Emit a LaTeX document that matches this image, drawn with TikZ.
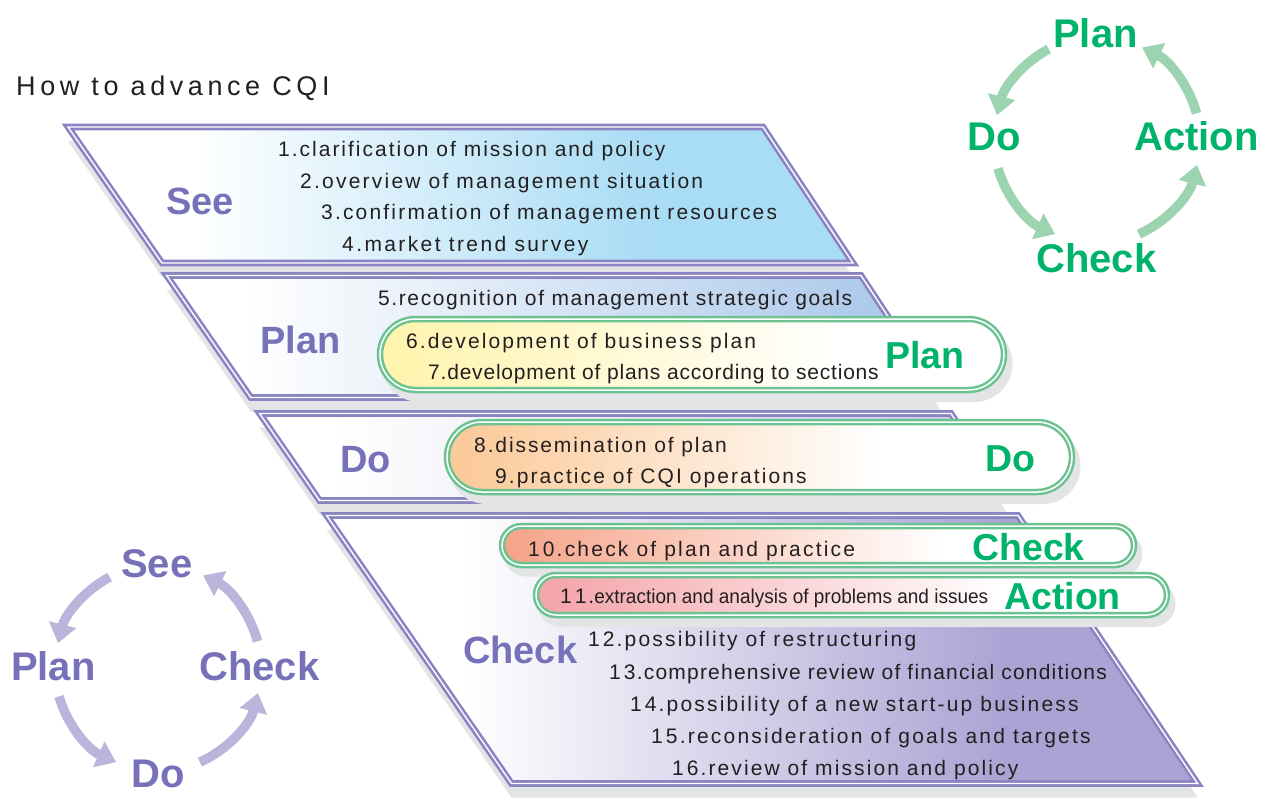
\documentclass[tikz,border=0pt]{standalone}
\usepackage{fontspec}
\setmainfont{Liberation Sans}
\newfontfamily\itemf[LetterSpace=9]{Liberation Sans}
\newfontfamily\titlef[LetterSpace=17]{Liberation Sans}
\newfontfamily\narrowf[FakeStretch=0.95]{Liberation Sans}
\newcommand{\lsp}[1]{\addfontfeature{LetterSpace=#1}}
\usetikzlibrary{shapes.misc,arrows.meta}
\definecolor{txt}{HTML}{231F20}
\definecolor{labpurple}{HTML}{7771B9}
\definecolor{labgreen}{HTML}{00B36B}
\definecolor{bandpurple}{HTML}{8A84C2}
\definecolor{pillgreen}{HTML}{6CC391}
\definecolor{arrgreen}{HTML}{9DD4B0}
\definecolor{arrpurple}{HTML}{B9B5DB}
\definecolor{shadowgray}{HTML}{E3E4E6}
\definecolor{seecol}{HTML}{A9DCF5}
\definecolor{plancol}{HTML}{ABC8EA}
\definecolor{docol}{HTML}{C9C7E7}
\definecolor{checkcol}{HTML}{AAA4D4}
\definecolor{pyellow}{HTML}{FFF4B0}
\definecolor{ppeach}{HTML}{FBCB9C}
\definecolor{psalmon}{HTML}{F6A58B}
\definecolor{ppink}{HTML}{F4A5AA}
\pgfdeclarehorizontalshading{seeshade}{100bp}{color(0bp)=(white); color(33bp)=(white); color(62bp)=(seecol); color(100bp)=(seecol)}
\pgfdeclarehorizontalshading{planshade}{100bp}{color(0bp)=(white); color(30bp)=(white); color(72bp)=(plancol); color(100bp)=(plancol)}
\pgfdeclarehorizontalshading{doshade}{100bp}{color(0bp)=(white); color(30bp)=(white); color(75bp)=(docol); color(100bp)=(docol)}
\pgfdeclarehorizontalshading{checkshade}{100bp}{color(0bp)=(white); color(33bp)=(white); color(64bp)=(checkcol); color(100bp)=(checkcol)}
\pgfdeclarehorizontalshading{pplanshade}{100bp}{color(0bp)=(pyellow); color(27bp)=(pyellow); color(62bp)=(white); color(100bp)=(white)}
\pgfdeclarehorizontalshading{pdoshade}{100bp}{color(0bp)=(ppeach); color(27bp)=(ppeach); color(60bp)=(white); color(100bp)=(white)}
\pgfdeclarehorizontalshading{pcheckshade}{100bp}{color(0bp)=(psalmon); color(26bp)=(psalmon); color(60bp)=(white); color(100bp)=(white)}
\pgfdeclarehorizontalshading{pactshade}{100bp}{color(0bp)=(ppink); color(26bp)=(ppink); color(62bp)=(white); color(100bp)=(white)}
\begin{document}
\begin{tikzpicture}[x=1pt,y=-1pt,
  item/.style={anchor=base west, inner sep=0pt, text=txt, font=\itemf\fontsize{21}{25}\selectfont},
  bandlabel/.style={anchor=base west, inner sep=0pt, text=labpurple, font=\bfseries\fontsize{38}{40}\selectfont},
  pilllabel/.style={anchor=base west, inner sep=0pt, text=labgreen, font=\bfseries\fontsize{37.5}{40}\selectfont},
  gcyc/.style={anchor=base west, inner sep=0pt, text=labgreen, font=\bfseries\fontsize{40}{42}\selectfont},
  pcyc/.style={anchor=base west, inner sep=0pt, text=labpurple, font=\bfseries\fontsize{40}{42}\selectfont},
  bandbox/.style={draw=bandpurple, line width=2.6pt, double=white, double distance=1.4pt, line join=miter, shade},
  bandshadow/.style={fill=shadowgray},
  pill/.style={rounded rectangle, draw=pillgreen, line width=2.5pt, double=white, double distance=1.5pt, shade, inner sep=0pt},
  pillshadow/.style={rounded rectangle, fill=shadowgray, inner sep=0pt},
  garrow/.style={draw=arrgreen, line width=9.5pt, -{Triangle[width=27pt,length=19pt]}},
  parrow/.style={draw=arrpurple, line width=9.5pt, -{Triangle[width=27pt,length=19pt]}}
]
\useasboundingbox (0,0) rectangle (1277,804);
\fill[white] (0,0) rectangle (1277,804);

% title
\node[anchor=base west, inner sep=0pt, text=txt, font=\titlef\fontsize{27}{30}\selectfont] (title) at (16,95) {How to advance CQI};

% ---------- See band
\fill[bandshadow, shift={(0,14)}] (68,127) -- (763,127) -- (853,263) -- (162,263) -- cycle;
\path[bandbox, shading=seeshade] (68,127) -- (763,127) -- (853,263) -- (162,263) -- cycle;
\node[bandlabel] (lsee) at (166,214) {See};
\node[item] (i1) at (278,156) {\lsp{9.5}1.clarification of mission and policy};
\node[item] (i2) at (300,188) {\lsp{10.6}2.overview of management situation};
\node[item] (i3) at (321,219) {\lsp{10.4}3.confirmation of management resources};
\node[item] (i4) at (342,251) {\lsp{11.4}4.market trend survey};

% ---------- Plan band
\fill[bandshadow, shift={(0,14)}] (166.6,275.5) -- (861,275.5) -- (941.5,397.5) -- (250.8,397.5) -- cycle;
\path[bandbox, shading=planshade] (166.6,275.5) -- (861,275.5) -- (941.5,397.5) -- (250.8,397.5) -- cycle;
\node[bandlabel] (lplan) at (260,353) {Plan};
\node[item] (i5) at (378,305) {\lsp{7.6}5.recognition of management strategic goals};
\node[pillshadow, minimum width=631pt, minimum height=77pt] (shplan) at (697,363.5) {};
\node[pill, shading=pplanshade, minimum width=624pt, minimum height=71pt] (pillplan) at (692,354.5) {};
\node[item] (i6) at (406,348) {\lsp{10}6.development of business plan};
\node[item] (i7) at (428,379) {\lsp{3.8}7.development of plans according to sections};
\node[pilllabel] (gplan) at (885,368) {Plan};

% ---------- Do band
\fill[bandshadow, shift={(0,14)}] (259.6,413.5) -- (951,413.5) -- (1008,500.5) -- (319.6,500.5) -- cycle;
\path[bandbox, shading=doshade] (259.6,413.5) -- (951,413.5) -- (1008,500.5) -- (319.6,500.5) -- cycle;
\node[bandlabel] (ldo) at (340,472) {Do};
\node[pillshadow, minimum width=632pt, minimum height=76pt] (shdo) at (764.5,466) {};
\node[pill, shading=pdoshade, minimum width=625pt, minimum height=70pt] (pilldo) at (759.5,457) {};
\node[item] (i8) at (474,452) {8.dissemination of plan};
\node[item] (i9) at (495,483) {\lsp{9.9}9.practice of CQI operations};
\node[pilllabel] (gdo) at (985,471) {Do};

% ---------- Check band
\fill[bandshadow, shift={(0,14)}] (326.6,515.5) -- (1018,515.5) -- (1197.6,783.5) -- (511.5,783.5) -- cycle;
\path[bandbox, shading=checkshade] (326.6,515.5) -- (1018,515.5) -- (1197.6,783.5) -- (511.5,783.5) -- cycle;
\node[bandlabel] (lcheck) at (463,663) {Check};
\node[pillshadow, minimum width=639pt, minimum height=45pt] (shcheck) at (823,554) {};
\node[pill, shading=pcheckshade, minimum width=632pt, minimum height=39pt] (pillcheck) at (818,545.5) {};
\node[item] (i10) at (528,556) {\lsp{10.5}1\kern3pt0.check of plan and practice};
\node[pilllabel] (gcheck) at (972,560) {Check};
\node[pillshadow, minimum width=638pt, minimum height=46pt] (shact) at (856.5,604) {};
\node[pill, shading=pactshade, minimum width=631pt, minimum height=40pt] (pillact) at (851.5,595) {};
\node[item] (i11) at (560,603) {1\kern3pt1.{\narrowf\fontsize{20}{24}\selectfont extraction and analysis of problems and issues}};
\node[pilllabel] (gact) at (1004,609) {Action};
\node[item] (i12) at (588,646) {\lsp{10.4}1\kern3pt2.possibility of restructuring};
\node[item] (i13) at (609,679) {\lsp{5.8}1\kern3pt3.comprehensive review of financial conditions};
\node[item] (i14) at (630,711) {\lsp{10.4}1\kern3pt4.possibility of a new start-up business};
\node[item] (i15) at (651,743) {\lsp{10.6}1\kern3pt5.reconsideration of goals and targets};
\node[item] (i16) at (672,775) {\lsp{10}1\kern3pt6.review of mission and policy};

% ---------- PDCA cycle (top right)
\coordinate (gc) at (1097,140);
\node[gcyc] (cplan) at (1053,47) {Plan};
\node[gcyc] (cdo) at (967,150) {Do};
\node[gcyc] (cact) at (1134,150) {Action};
\node[gcyc] (ccheck) at (1036,272) {Check};
\draw[garrow] (gc) ++(-118:103) arc[start angle=-118, end angle=-166, radius=103];
\draw[garrow] (gc) ++(-196:103) arc[start angle=-196, end angle=-246, radius=103];
\draw[garrow] (gc) ++(-294:103) arc[start angle=-294, end angle=-346, radius=103];
\draw[garrow] (gc) ++(-15:103) arc[start angle=-15, end angle=-64, radius=103];

% ---------- See-Plan-Do-Check cycle (bottom left)
\coordinate (pc) at (158,668);
\node[pcyc] (csee) at (121,577) {See};
\node[pcyc] (cplan2) at (11,680) {Plan};
\node[pcyc] (ccheck2) at (199,680) {Check};
\node[pcyc] (cdo2) at (131,787) {Do};
\draw[parrow] (pc) ++(-118:103) arc[start angle=-118, end angle=-166, radius=103];
\draw[parrow] (pc) ++(-196:103) arc[start angle=-196, end angle=-246, radius=103];
\draw[parrow] (pc) ++(-294:103) arc[start angle=-294, end angle=-346, radius=103];
\draw[parrow] (pc) ++(-15:103) arc[start angle=-15, end angle=-64, radius=103];
\end{tikzpicture}
\end{document}
